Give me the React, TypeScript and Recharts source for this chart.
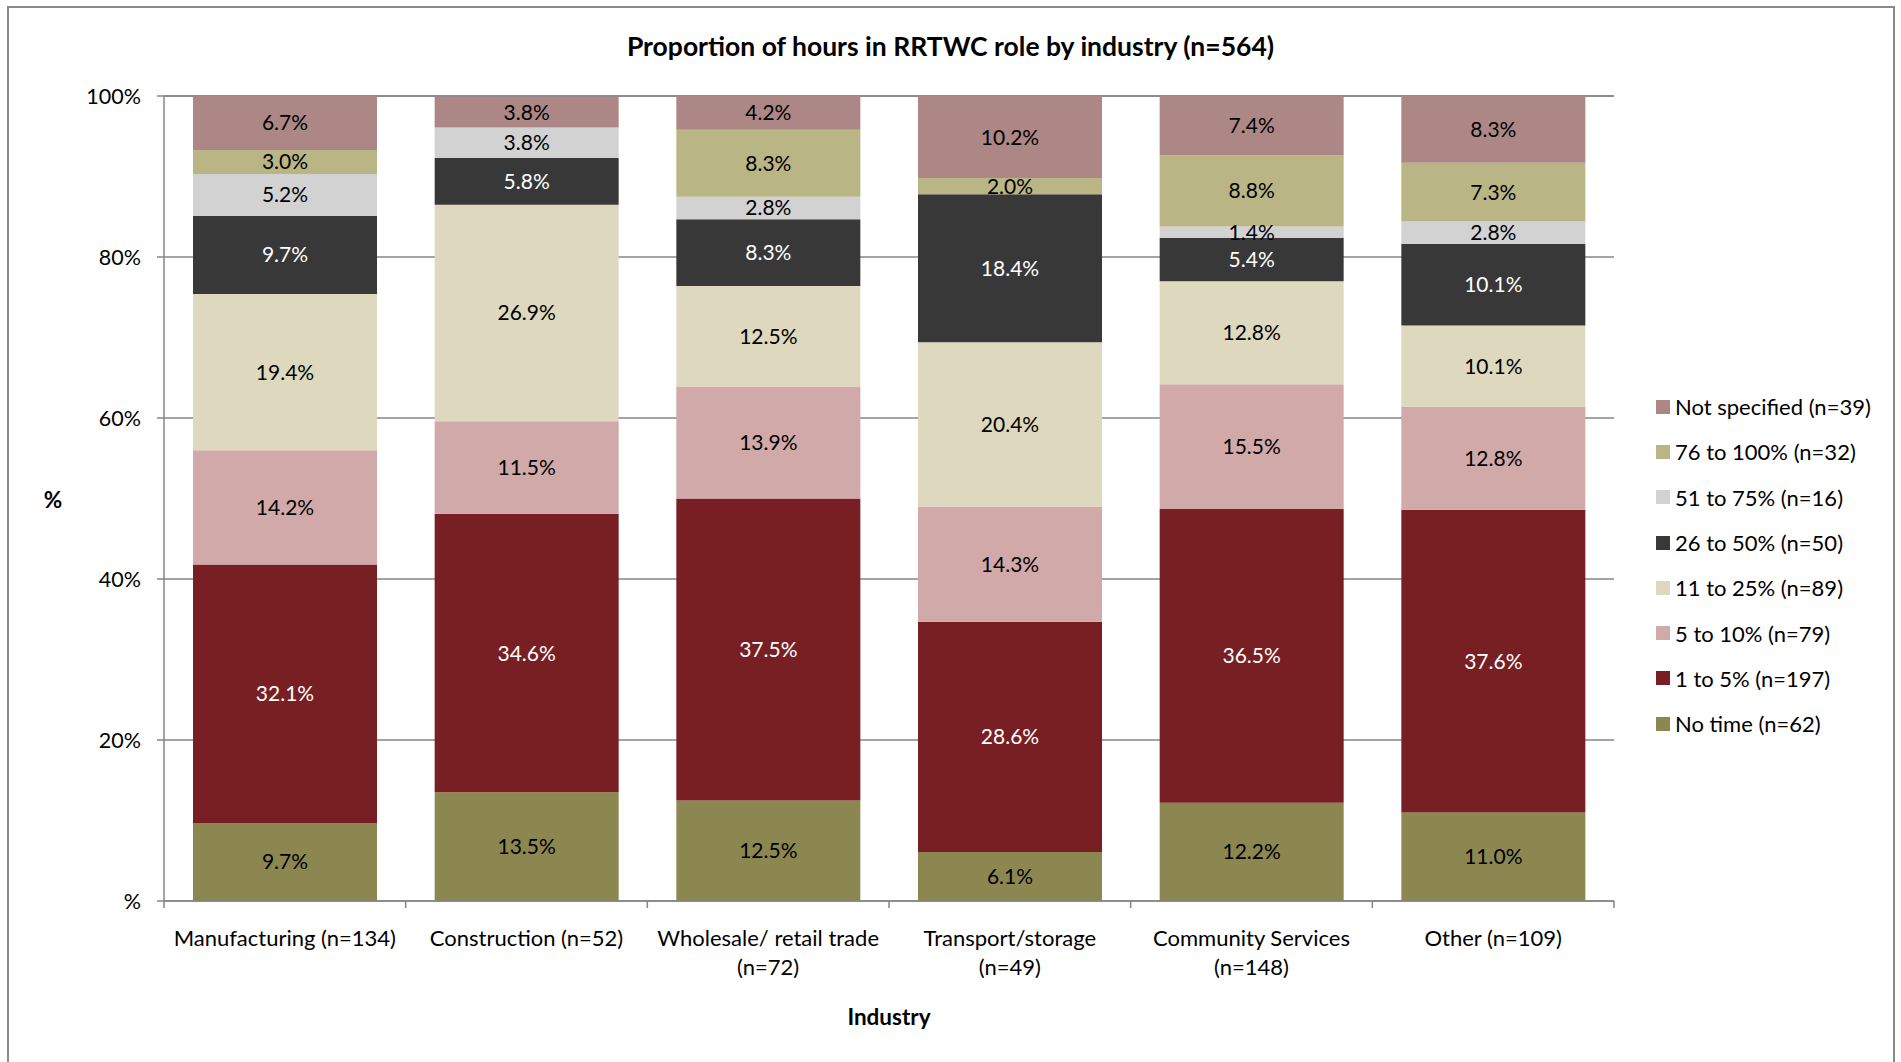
import { BarChart, Bar, XAxis, YAxis, CartesianGrid, LabelList } from "recharts";

const FONT = "Lato, 'Noto Sans', sans-serif";
const GRID = "#868686";

// industries along the x axis ("\n" = line break in the tick label)
const industries = [
  "Manufacturing (n=134)",
  "Construction (n=52)",
  "Wholesale/ retail trade\n(n=72)",
  "Transport/storage\n(n=49)",
  "Community Services\n(n=148)",
  "Other (n=109)",
];

// % of respondents per hours band, same order as industries
const noTime = [9.7, 13.5, 12.5, 6.1, 12.2, 11.0];
const oneTo5 = [32.1, 34.6, 37.5, 28.6, 36.5, 37.6];
const fiveTo10 = [14.2, 11.5, 13.9, 14.3, 15.5, 12.8];
const elevenTo25 = [19.4, 26.9, 12.5, 20.4, 12.8, 10.1];
const twentySixTo50 = [9.7, 5.8, 8.3, 18.4, 5.4, 10.1];
const fiftyOneTo75 = [5.2, 3.8, 2.8, 0, 1.4, 2.8];
const seventySixTo100 = [3.0, 0, 8.3, 2.0, 8.8, 7.3];
const notSpecified = [6.7, 3.8, 4.2, 10.2, 7.4, 8.3];

const yTicks = [0, 20, 40, 60, 80, 100];

// bottom of stack first
const series = [
  { key: "noTime", name: "No time (n=62)", values: noTime, color: "#8C8650", text: "#000" },
  { key: "oneTo5", name: "1 to 5% (n=197)", values: oneTo5, color: "#771F22", text: "#fff" },
  { key: "fiveTo10", name: "5 to 10% (n=79)", values: fiveTo10, color: "#D1A9A8", text: "#000" },
  { key: "elevenTo25", name: "11 to 25% (n=89)", values: elevenTo25, color: "#DDD8BE", text: "#000" },
  { key: "twentySixTo50", name: "26 to 50% (n=50)", values: twentySixTo50, color: "#383838", text: "#fff" },
  { key: "fiftyOneTo75", name: "51 to 75% (n=16)", values: fiftyOneTo75, color: "#D2D2D2", text: "#000" },
  { key: "seventySixTo100", name: "76 to 100% (n=32)", values: seventySixTo100, color: "#B9B585", text: "#000" },
  { key: "notSpecified", name: "Not specified (n=39)", values: notSpecified, color: "#AD8785", text: "#000" },
];

const data = industries.map((industry, i) => {
  const row: Record<string, any> = { industry };
  series.forEach((s) => (row[s.key] = s.values[i]));
  return row;
});

// label + tick marks on the category boundaries (Excel style)
const CategoryTick = (props: any) => {
  const { x, y, payload, index } = props;
  const half = payload.offset ?? 0;
  const lines = String(payload.value).split("\n");
  return (
    <g>
      <line x1={x - half} x2={x - half} y1={y} y2={y + 7} stroke={GRID} strokeWidth={1.5} />
      {index === industries.length - 1 && (
        <line x1={x + half} x2={x + half} y1={y} y2={y + 7} stroke={GRID} strokeWidth={1.5} />
      )}
      <text x={x} y={y} textAnchor="middle" fontFamily={FONT} fontSize={22} fill="#000">
        {lines.map((l, i) => (
          <tspan key={i} x={x} dy={i === 0 ? 45 : 29}>
            {l}
          </tspan>
        ))}
      </text>
    </g>
  );
};

export default function App() {
  return (
    <div style={{ position: "absolute", left: 0, top: 0, width: 1901, height: 1062, background: "#fff", fontFamily: FONT }}>
      <div
        style={{
          position: "absolute",
          left: 7,
          top: 6,
          width: 1888,
          height: 1070,
          border: "2px solid #8a8a8a",
          boxSizing: "border-box",
        }}
      />
      <div
        style={{
          position: "absolute",
          left: 0,
          width: 1901,
          top: 31,
          textAlign: "center",
          fontWeight: 700,
          fontSize: 26.5,
          lineHeight: "30px",
        }}
      >
        Proportion of hours in RRTWC role by industry (n=564)
      </div>
      <BarChart
        width={1901}
        height={1062}
        data={data}
        margin={{ top: 96, right: 287, bottom: 160, left: 44 }}
        barCategoryGap="12%"
        style={{ position: "absolute", left: 0, top: 0 }}
      >
        <CartesianGrid vertical={false} stroke={GRID} strokeWidth={1.5} />
        <XAxis
          dataKey="industry"
          height={1}
          tickSize={0}
          tickMargin={0}
          tickLine={false}
          axisLine={{ stroke: GRID, strokeWidth: 1.5 }}
          tick={<CategoryTick />}
          interval={0}
        />
        <YAxis
          type="number"
          domain={[0, 100]}
          ticks={yTicks}
          width={120}
          tickSize={7}
          tickMargin={16}
          tickLine={{ stroke: GRID, strokeWidth: 1.5 }}
          axisLine={{ stroke: GRID, strokeWidth: 1.5 }}
          tick={{ fontFamily: FONT, fontSize: 21.5, fill: "#000" }}
          tickFormatter={(v: number) => (v === 0 ? "%" : `${v}%`)}
        />
        {series.map((s) => (
          <Bar key={s.key} dataKey={s.key} name={s.name} stackId="a" fill={s.color} isAnimationActive={false}>
            <LabelList
              dataKey={s.key}
              position="center"
              fill={s.text}
              fontFamily={FONT}
              fontSize={21}
              formatter={(v: any) => (Number(v) > 0 ? `${Number(v).toFixed(1)}%` : "")}
            />
          </Bar>
        ))}
      </BarChart>
      <div style={{ position: "absolute", left: 30, top: 486, width: 46, textAlign: "center", fontWeight: 700, fontSize: 22.5 }}>%</div>
      <div style={{ position: "absolute", left: 789, top: 1003, width: 200, textAlign: "center", fontWeight: 700, fontSize: 22.5 }}>
        Industry
      </div>
      <div style={{ position: "absolute", left: 1656, top: 384 }}>
        {[...series].reverse().map((s) => (
          <div key={s.key} style={{ display: "flex", alignItems: "center", height: 45.3, fontSize: 22 }}>
            <span style={{ width: 14, height: 14, background: s.color, marginRight: 5, display: "inline-block" }} />
            <span>{s.name}</span>
          </div>
        ))}
      </div>
    </div>
  );
}
